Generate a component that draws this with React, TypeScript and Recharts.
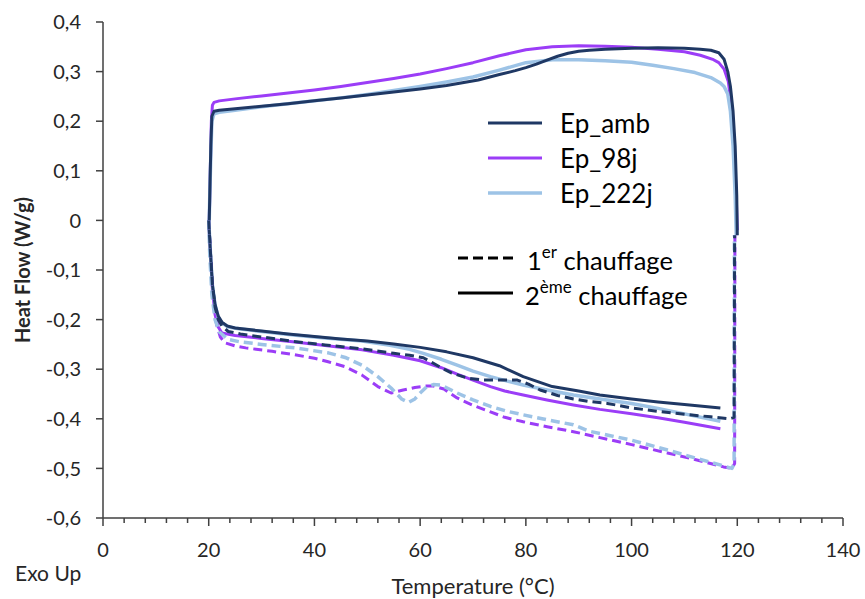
import React from "react";
import { LineChart, Line, XAxis, YAxis } from "recharts";

// ---- data: [temperature °C, heat flow W/g] ----
const ambCooling = [
  [120, -0.03], [119.9, 0.05], [119.6, 0.15], [119.2, 0.22], [118.7, 0.27], [118.2, 0.3], [117.5, 0.325],
  [116.5, 0.338], [115, 0.343], [113, 0.345], [110, 0.347], [105, 0.348], [100, 0.347], [95, 0.345],
  [92, 0.343], [90, 0.341], [88, 0.337], [86, 0.331], [84, 0.323], [82, 0.315], [80, 0.308], [78, 0.302],
  [75, 0.294], [71, 0.283], [65, 0.272], [60, 0.265], [55, 0.259], [50, 0.253], [45, 0.247], [40, 0.241],
  [35, 0.235], [30, 0.23], [25, 0.225], [22, 0.222], [21, 0.22], [20.6, 0.21], [20.4, 0.15], [20.2, 0.05], [20.1, 0.0],
];
const ambHeating2 = [
  [20, 0], [20.3, -0.06], [20.7, -0.13], [21.2, -0.17], [21.8, -0.193], [22.5, -0.205], [23.5, -0.213],
  [25, -0.217], [30, -0.223], [35, -0.229], [40, -0.234], [45, -0.239], [50, -0.243], [55, -0.249],
  [60, -0.256], [65, -0.265], [70, -0.277], [75, -0.293], [79.5, -0.315], [85, -0.335], [90, -0.344],
  [94, -0.352], [100, -0.36], [105, -0.366], [110, -0.371], [116.8, -0.378],
];
const ambHeating1 = [
  [20, 0], [20.3, -0.06], [20.7, -0.13], [21.2, -0.175], [21.8, -0.2], [22.5, -0.213], [23.7, -0.224],
  [26, -0.229], [30, -0.235], [36, -0.244], [42, -0.251], [49, -0.259], [55, -0.268], [58, -0.272],
  [60.6, -0.277], [62, -0.285], [64, -0.297], [66, -0.308], [69, -0.318], [72, -0.322], [75, -0.322],
  [78.4, -0.322], [80.5, -0.33], [82.7, -0.342], [86, -0.353], [89, -0.36], [92, -0.365], [95.4, -0.369],
  [100, -0.378], [105, -0.385], [110, -0.391], [115, -0.396], [118.5, -0.4], [119.4, -0.397], [119.5, -0.03],
];

const d98Cooling = [
  [120, -0.02], [119.8, 0.05], [119.4, 0.15], [118.9, 0.23], [118.3, 0.28], [117.5, 0.305], [116.5, 0.318],
  [115.5, 0.324], [113, 0.333], [110, 0.34], [105, 0.345], [100, 0.349], [95, 0.351], [90, 0.352],
  [85, 0.35], [80, 0.344], [75, 0.332], [70, 0.318], [65, 0.306], [60, 0.295], [55, 0.286], [50, 0.278],
  [45, 0.27], [40, 0.263], [35, 0.257], [30, 0.251], [25, 0.245], [22, 0.241], [21, 0.238], [20.7, 0.232],
  [20.5, 0.2], [20.3, 0.1], [20.1, 0.0],
];
const d98Heating2 = [
  [20, 0], [20.3, -0.06], [20.7, -0.14], [21.2, -0.19], [21.8, -0.215], [22.5, -0.227], [25, -0.232],
  [30, -0.238], [36.3, -0.245], [42, -0.252], [49, -0.261], [55, -0.272], [60, -0.283], [64, -0.297],
  [67, -0.31], [70, -0.322], [73.3, -0.335], [76, -0.344], [79.5, -0.352], [84, -0.362], [89, -0.372],
  [94, -0.381], [100, -0.39], [105, -0.398], [110, -0.407], [116.8, -0.42],
];
const d98Heating1 = [
  [20, 0], [20.3, -0.07], [20.8, -0.16], [21.5, -0.21], [22.2, -0.235], [23.1, -0.247], [25, -0.253],
  [27, -0.257], [32, -0.264], [36.3, -0.271], [40, -0.278], [42.6, -0.285], [45.8, -0.295], [49, -0.312],
  [52, -0.335], [54.5, -0.348], [56.8, -0.342], [59, -0.337], [61, -0.334], [62.5, -0.334], [64.5, -0.34],
  [67, -0.358], [70, -0.373], [73.3, -0.386], [76, -0.397], [79.5, -0.406], [84, -0.416], [89, -0.426],
  [94, -0.438], [100, -0.452], [106.8, -0.469], [112, -0.482], [117.4, -0.497], [119, -0.5],
  [119.5, -0.49], [119.55, -0.03],
];

const d222Cooling = [
  [119.8, -0.03], [119.6, 0.05], [119.2, 0.15], [118.7, 0.22], [118.2, 0.255], [117.5, 0.27], [116.8, 0.277],
  [115, 0.288], [112, 0.298], [108, 0.306], [104, 0.313], [100, 0.319], [95, 0.322], [90, 0.324],
  [85, 0.324], [80, 0.318], [75, 0.303], [70, 0.289], [65, 0.279], [60, 0.27], [55, 0.262], [50, 0.254],
  [45, 0.247], [40, 0.241], [35, 0.235], [30, 0.229], [25, 0.222], [22, 0.218], [21, 0.215], [20.6, 0.2],
  [20.4, 0.13], [20.2, 0.05], [20.1, 0.0],
];
const d222Heating2 = [
  [20, 0], [20.3, -0.06], [20.7, -0.13], [21.2, -0.17], [21.8, -0.195], [22.5, -0.207], [23.7, -0.215],
  [26, -0.219], [30, -0.224], [36, -0.231], [42, -0.237], [49, -0.243], [54.3, -0.252], [58, -0.26],
  [60.6, -0.268], [64, -0.28], [67, -0.292], [70, -0.304], [73.3, -0.315], [76.5, -0.324], [79.5, -0.332],
  [84, -0.342], [89, -0.352], [94, -0.36], [100, -0.369], [105, -0.379], [110, -0.39], [116.8, -0.405],
];
const d222Heating1 = [
  [20, 0], [20.2, -0.07], [20.6, -0.15], [21.2, -0.2], [22, -0.225], [23.7, -0.24], [26, -0.245],
  [30, -0.25], [36.3, -0.257], [42.6, -0.267], [46, -0.277], [49, -0.292], [52, -0.315], [54.5, -0.338],
  [56.5, -0.36], [57.8, -0.367], [59, -0.36], [60, -0.348], [61.2, -0.336], [62.5, -0.331], [64, -0.332],
  [67, -0.348], [70, -0.362], [73.3, -0.375], [76.5, -0.385], [79.5, -0.392], [84, -0.402], [89, -0.412],
  [92, -0.425], [96, -0.434], [100, -0.443], [106.8, -0.463], [112, -0.479], [117.4, -0.495], [119, -0.5],
  [119.4, -0.49], [119.45, -0.03],
];

const xTicks = [0, 4, 8, 12, 16, 20, 24, 28, 32, 36, 40, 44, 48, 52, 56, 60, 64, 68, 72, 76, 80, 84, 88, 92, 96, 100, 104, 108, 112, 116, 120, 124, 128, 132, 136, 140];
const xMajorStep = 20;
const yTicks = [-0.6, -0.5, -0.4, -0.3, -0.2, -0.1, 0, 0.1, 0.2, 0.3, 0.4];

const seriesNames = ["Ep_amb", "Ep_98j", "Ep_222j"];
const heatingNames = ["1er chauffage", "2ème chauffage"];

const NAVY = "#1F3864";
const PURPLE = "#9B3DF7";
const LIGHT = "#9DC3E6";
const AXIS = "#404040";
const TEXT = "#262626";
const FONT = "Lato, 'Open Sans', sans-serif";

const toPts = (arr: number[][]) => arr.map(([x, y]) => ({ x, y }));

const series = [
  { key: "d98c", data: toPts(d98Cooling), color: PURPLE, dashed: false, w: 3 },
  { key: "d98h2", data: toPts(d98Heating2), color: PURPLE, dashed: false, w: 3 },
  { key: "d222c", data: toPts(d222Cooling), color: LIGHT, dashed: false, w: 3.5 },
  { key: "d222h2", data: toPts(d222Heating2), color: LIGHT, dashed: false, w: 3.5 },
  { key: "ambc", data: toPts(ambCooling), color: NAVY, dashed: false, w: 3 },
  { key: "ambh2", data: toPts(ambHeating2), color: NAVY, dashed: false, w: 3 },
  { key: "d98h1", data: toPts(d98Heating1), color: PURPLE, dashed: true, w: 3 },
  { key: "d222h1", data: toPts(d222Heating1), color: LIGHT, dashed: true, w: 3.5 },
  { key: "ambh1", data: toPts(ambHeating1), color: NAVY, dashed: true, w: 3 },
];

const fmtY = (v: number) => (Math.abs(v) < 1e-9 ? "0" : v.toFixed(1).replace(".", ","));

const XTick = (props: any) => {
  const { x, y, payload } = props;
  const major = payload.value % xMajorStep === 0;
  return (
    <g>
      <line x1={x} x2={x} y1={y} y2={y + (major ? 8 : 5)} stroke={AXIS} strokeWidth={1.5} />
      {major && (
        <text x={x} y={y + 31} textAnchor="middle" dominantBaseline="central" fontSize={20} fill={TEXT} fontFamily={FONT}>
          {payload.value}
        </text>
      )}
    </g>
  );
};

const XLabel = (p: any) => {
  const vb = p.viewBox;
  return (
    <g>
      <text x={vb.x + vb.width / 2} y={vb.y + 67} textAnchor="middle" dominantBaseline="central" fontSize={22} fill={TEXT} fontFamily={FONT}>
        Temperature (°C)
      </text>
      <text x={vb.x - 88} y={vb.y + 54} textAnchor="start" dominantBaseline="central" fontSize={21} fill={TEXT} fontFamily={FONT}>
        Exo Up
      </text>
    </g>
  );
};

const YLabel = (p: any) => {
  const vb = p.viewBox;
  const cx = vb.x + 22;
  const cy = vb.y + vb.height / 2;
  return (
    <text transform={`translate(${cx},${cy}) rotate(-90)`} textAnchor="middle" dominantBaseline="central" fontSize={20} fontWeight={700} fill={TEXT} fontFamily={FONT}>
      Heat Flow (W/g)
    </text>
  );
};

const LegendBox = () => {
  const colors = [NAVY, PURPLE, LIGHT];
  return (
    <svg width={320} height={220} style={{ position: "absolute", left: 440, top: 100 }} fontFamily={FONT}>
      {seriesNames.map((n, i) => (
        <g key={n}>
          <line x1={48} x2={102} y1={23 + i * 35} y2={23 + i * 35} stroke={colors[i]} strokeWidth={i === 2 ? 3.5 : 3} />
          <text x={120} y={23 + i * 35} dominantBaseline="central" fontSize={26} fill="#000">{n}</text>
        </g>
      ))}
      <line x1={18} x2={73} y1={158} y2={158} stroke="#000" strokeWidth={3} strokeDasharray="10 5" />
      <text x={87} y={160} dominantBaseline="central" fontSize={25.5} fill="#000">
        {heatingNames[0].slice(0, 1)}
        <tspan fontSize={17} dy={-9}>{heatingNames[0].slice(1, 3)}</tspan>
        <tspan dy={9}>{heatingNames[0].slice(3)}</tspan>
      </text>
      <line x1={18} x2={73} y1={193} y2={193} stroke="#000" strokeWidth={3} />
      <text x={85} y={195} dominantBaseline="central" fontSize={25.5} fill="#000">
        {heatingNames[1].slice(0, 1)}
        <tspan fontSize={17} dy={-9}>{heatingNames[1].slice(1, 4)}</tspan>
        <tspan dy={9}>{heatingNames[1].slice(4)}</tspan>
      </text>
    </svg>
  );
};

export default function App() {
  return (
    <div style={{ position: "absolute", left: 0, top: 0, width: 865, height: 599, background: "#fff" }}>
      <LineChart width={865} height={599} margin={{ top: 22, right: 22, left: 0, bottom: 0 }}>
        <XAxis
          type="number"
          dataKey="x"
          domain={[0, 140]}
          ticks={xTicks}
          interval={0}
          tick={<XTick />}
          tickLine={false}
          tickSize={0}
          tickMargin={0}
          height={81}
          axisLine={{ stroke: AXIS, strokeWidth: 1.5 }}
          allowDataOverflow
          label={{ content: <XLabel /> }}
        />
        <YAxis
          type="number"
          dataKey="y"
          domain={[-0.6, 0.4]}
          ticks={yTicks}
          interval={0}
          tickFormatter={fmtY}
          width={103}
          tickSize={7}
          tickMargin={15}
          tick={{ fontSize: 20, fill: TEXT, fontFamily: FONT }}
          tickLine={{ stroke: AXIS, strokeWidth: 1.5 }}
          axisLine={{ stroke: AXIS, strokeWidth: 1.5 }}
          allowDataOverflow
          label={{ content: <YLabel /> }}
        />
        {series.map((s) => (
          <Line
            key={s.key}
            data={s.data}
            dataKey="y"
            type="linear"
            stroke={s.color}
            strokeWidth={s.w}
            strokeDasharray={s.dashed ? "9 5" : undefined}
            dot={false}
            activeDot={false}
            isAnimationActive={false}
            strokeLinejoin="round"
          />
        ))}
      </LineChart>
      <LegendBox />
    </div>
  );
}
